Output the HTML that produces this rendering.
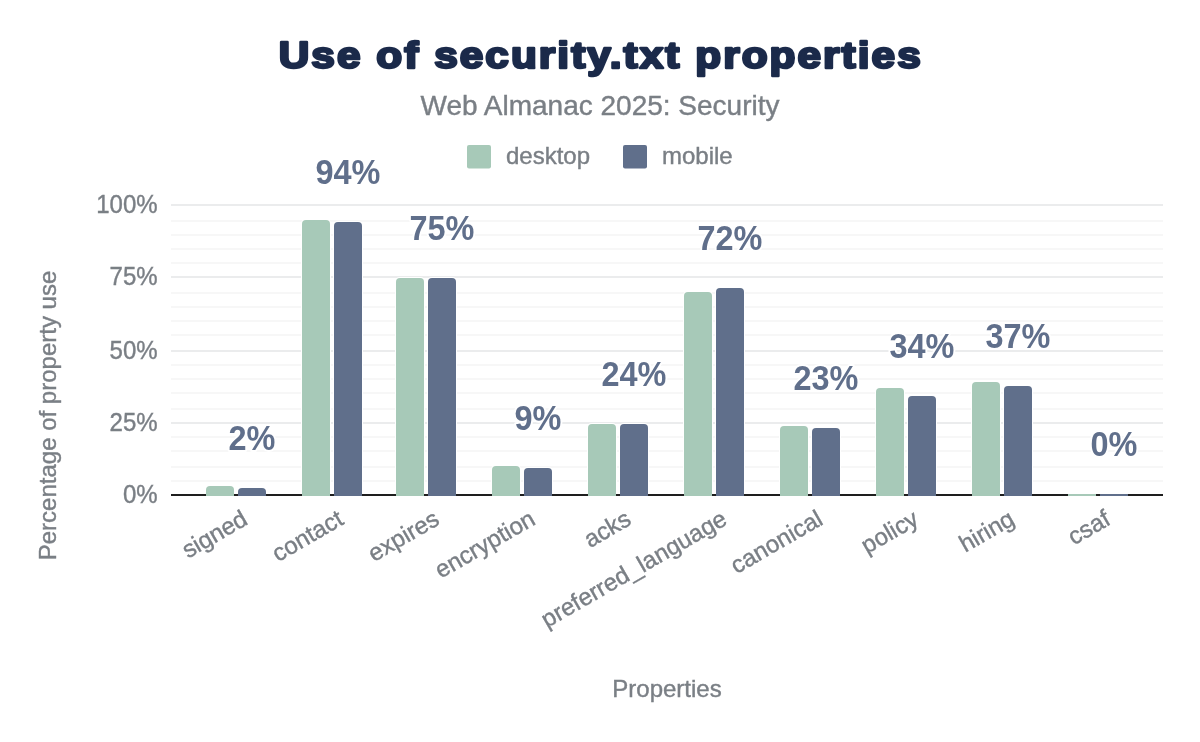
<!DOCTYPE html>
<html><head><meta charset="utf-8"><title>Use of security.txt properties</title>
<style>
html,body{margin:0;padding:0;background:#fff;}
body{width:1200px;height:742px;overflow:hidden;}
svg{display:block;will-change:transform;}
text{font-family:"Liberation Sans",Arial,sans-serif;}
.g{stroke:#7a7f85;stroke-width:0.4px;}
.title{font-weight:bold;font-size:37.5px;fill:#1b2a4a;stroke:#1b2a4a;stroke-width:2.5px;stroke-linejoin:round;letter-spacing:1.8px;}
.sub{font-size:28px;fill:#7a7f85;}
.leg{font-size:24px;fill:#7a7f85;}
.tick{font-size:25px;fill:#7a7f85;}
.xl{font-size:24px;fill:#7a7f85;}
.axt{font-size:24px;fill:#7a7f85;}
.dl{font-weight:bold;font-size:34.5px;fill:#606f8b;stroke:#fff;stroke-width:4px;paint-order:stroke;stroke-linejoin:round;}
</style></head>
<body>
<svg width="1200" height="742" viewBox="0 0 1200 742">
<rect width="1200" height="742" fill="#fff"/>
<text x="0" y="0" text-anchor="middle" class="title" transform="translate(600.7,68.2) scale(1.13,1)">Use of security.txt properties</text>
<text x="600" y="115" text-anchor="middle" class="sub g">Web Almanac 2025: Security</text>
<rect x="467" y="145" width="24" height="23.5" rx="2" fill="#a7c9b8"/>
<text x="506" y="163.5" class="leg g">desktop</text>
<rect x="623" y="145" width="24" height="23.5" rx="2" fill="#606f8b"/>
<text x="662" y="163.5" class="leg g">mobile</text>
<rect x="171" y="204" width="992" height="2" fill="#ebeced"/>
<rect x="171" y="276" width="992" height="2" fill="#ebeced"/>
<rect x="171" y="350" width="992" height="2" fill="#ebeced"/>
<rect x="171" y="422" width="992" height="2" fill="#ebeced"/>
<rect x="171" y="220" width="992" height="2" fill="#f7f7f7"/>
<rect x="171" y="234" width="992" height="2" fill="#f7f7f7"/>
<rect x="171" y="248" width="992" height="2" fill="#f7f7f7"/>
<rect x="171" y="262" width="992" height="2" fill="#f7f7f7"/>
<rect x="171" y="292" width="992" height="2" fill="#f7f7f7"/>
<rect x="171" y="306" width="992" height="2" fill="#f7f7f7"/>
<rect x="171" y="320" width="992" height="2" fill="#f7f7f7"/>
<rect x="171" y="334" width="992" height="2" fill="#f7f7f7"/>
<rect x="171" y="364" width="992" height="2" fill="#f7f7f7"/>
<rect x="171" y="378" width="992" height="2" fill="#f7f7f7"/>
<rect x="171" y="392" width="992" height="2" fill="#f7f7f7"/>
<rect x="171" y="408" width="992" height="2" fill="#f7f7f7"/>
<rect x="171" y="436" width="992" height="2" fill="#f7f7f7"/>
<rect x="171" y="450" width="992" height="2" fill="#f7f7f7"/>
<rect x="171" y="466" width="992" height="2" fill="#f7f7f7"/>
<rect x="171" y="480" width="992" height="2" fill="#f7f7f7"/>
<text x="0" y="0" transform="translate(157.6,212.80) scale(0.96,1)" text-anchor="end" class="tick g">100%</text>
<text x="0" y="0" transform="translate(157.6,284.80) scale(0.96,1)" text-anchor="end" class="tick g">75%</text>
<text x="0" y="0" transform="translate(157.6,358.80) scale(0.96,1)" text-anchor="end" class="tick g">50%</text>
<text x="0" y="0" transform="translate(157.6,430.80) scale(0.96,1)" text-anchor="end" class="tick g">25%</text>
<text x="0" y="0" transform="translate(157.6,502.80) scale(0.96,1)" text-anchor="end" class="tick g">0%</text>
<path d="M206,496 V490 Q206,486 210,486 H230 Q234,486 234,490 V496 Z" fill="#a7c9b8" stroke="#fff" stroke-width="2" paint-order="stroke"/>
<path d="M238,496 V492 Q238,488 242,488 H262 Q266,488 266,492 V496 Z" fill="#606f8b" stroke="#fff" stroke-width="2" paint-order="stroke"/>
<path d="M302,496 V224 Q302,220 306,220 H326 Q330,220 330,224 V496 Z" fill="#a7c9b8" stroke="#fff" stroke-width="2" paint-order="stroke"/>
<path d="M334,496 V226 Q334,222 338,222 H358 Q362,222 362,226 V496 Z" fill="#606f8b" stroke="#fff" stroke-width="2" paint-order="stroke"/>
<path d="M396,496 V282 Q396,278 400,278 H420 Q424,278 424,282 V496 Z" fill="#a7c9b8" stroke="#fff" stroke-width="2" paint-order="stroke"/>
<path d="M428,496 V282 Q428,278 432,278 H452 Q456,278 456,282 V496 Z" fill="#606f8b" stroke="#fff" stroke-width="2" paint-order="stroke"/>
<path d="M492,496 V470 Q492,466 496,466 H516 Q520,466 520,470 V496 Z" fill="#a7c9b8" stroke="#fff" stroke-width="2" paint-order="stroke"/>
<path d="M524,496 V472 Q524,468 528,468 H548 Q552,468 552,472 V496 Z" fill="#606f8b" stroke="#fff" stroke-width="2" paint-order="stroke"/>
<path d="M588,496 V428 Q588,424 592,424 H612 Q616,424 616,428 V496 Z" fill="#a7c9b8" stroke="#fff" stroke-width="2" paint-order="stroke"/>
<path d="M620,496 V428 Q620,424 624,424 H644 Q648,424 648,428 V496 Z" fill="#606f8b" stroke="#fff" stroke-width="2" paint-order="stroke"/>
<path d="M684,496 V296 Q684,292 688,292 H708 Q712,292 712,296 V496 Z" fill="#a7c9b8" stroke="#fff" stroke-width="2" paint-order="stroke"/>
<path d="M716,496 V292 Q716,288 720,288 H740 Q744,288 744,292 V496 Z" fill="#606f8b" stroke="#fff" stroke-width="2" paint-order="stroke"/>
<path d="M780,496 V430 Q780,426 784,426 H804 Q808,426 808,430 V496 Z" fill="#a7c9b8" stroke="#fff" stroke-width="2" paint-order="stroke"/>
<path d="M812,496 V432 Q812,428 816,428 H836 Q840,428 840,432 V496 Z" fill="#606f8b" stroke="#fff" stroke-width="2" paint-order="stroke"/>
<path d="M876,496 V392 Q876,388 880,388 H900 Q904,388 904,392 V496 Z" fill="#a7c9b8" stroke="#fff" stroke-width="2" paint-order="stroke"/>
<path d="M908,496 V400 Q908,396 912,396 H932 Q936,396 936,400 V496 Z" fill="#606f8b" stroke="#fff" stroke-width="2" paint-order="stroke"/>
<path d="M972,496 V386 Q972,382 976,382 H996 Q1000,382 1000,386 V496 Z" fill="#a7c9b8" stroke="#fff" stroke-width="2" paint-order="stroke"/>
<path d="M1004,496 V390 Q1004,386 1008,386 H1028 Q1032,386 1032,390 V496 Z" fill="#606f8b" stroke="#fff" stroke-width="2" paint-order="stroke"/>
<rect x="171" y="494" width="992" height="2" fill="#1e1e1e"/>
<rect x="206" y="494" width="28" height="2" fill="#a7c9b8"/>
<rect x="238" y="494" width="28" height="2" fill="#606f8b"/>
<rect x="302" y="494" width="28" height="2" fill="#a7c9b8"/>
<rect x="334" y="494" width="28" height="2" fill="#606f8b"/>
<rect x="396" y="494" width="28" height="2" fill="#a7c9b8"/>
<rect x="428" y="494" width="28" height="2" fill="#606f8b"/>
<rect x="492" y="494" width="28" height="2" fill="#a7c9b8"/>
<rect x="524" y="494" width="28" height="2" fill="#606f8b"/>
<rect x="588" y="494" width="28" height="2" fill="#a7c9b8"/>
<rect x="620" y="494" width="28" height="2" fill="#606f8b"/>
<rect x="684" y="494" width="28" height="2" fill="#a7c9b8"/>
<rect x="716" y="494" width="28" height="2" fill="#606f8b"/>
<rect x="780" y="494" width="28" height="2" fill="#a7c9b8"/>
<rect x="812" y="494" width="28" height="2" fill="#606f8b"/>
<rect x="876" y="494" width="28" height="2" fill="#a7c9b8"/>
<rect x="908" y="494" width="28" height="2" fill="#606f8b"/>
<rect x="972" y="494" width="28" height="2" fill="#a7c9b8"/>
<rect x="1004" y="494" width="28" height="2" fill="#606f8b"/>
<rect x="1068" y="494" width="28" height="2" fill="#a7c9b8"/>
<rect x="1100" y="494" width="28" height="2" fill="#606f8b"/>
<text x="0" y="0" transform="translate(252,449.5) scale(0.94,1)" text-anchor="middle" class="dl">2%</text>
<text x="0" y="0" transform="translate(348,183.5) scale(0.94,1)" text-anchor="middle" class="dl">94%</text>
<text x="0" y="0" transform="translate(442,239.5) scale(0.94,1)" text-anchor="middle" class="dl">75%</text>
<text x="0" y="0" transform="translate(538,429.5) scale(0.94,1)" text-anchor="middle" class="dl">9%</text>
<text x="0" y="0" transform="translate(634,385.5) scale(0.94,1)" text-anchor="middle" class="dl">24%</text>
<text x="0" y="0" transform="translate(730,249.5) scale(0.94,1)" text-anchor="middle" class="dl">72%</text>
<text x="0" y="0" transform="translate(826,389.5) scale(0.94,1)" text-anchor="middle" class="dl">23%</text>
<text x="0" y="0" transform="translate(922,357.5) scale(0.94,1)" text-anchor="middle" class="dl">34%</text>
<text x="0" y="0" transform="translate(1018,347.5) scale(0.94,1)" text-anchor="middle" class="dl">37%</text>
<text x="0" y="0" transform="translate(1114,455.5) scale(0.94,1)" text-anchor="middle" class="dl">0%</text>
<text transform="translate(249.15,523.5) rotate(-30)" text-anchor="end" class="xl g">signed</text>
<text transform="translate(345.02,523.5) rotate(-30)" text-anchor="end" class="xl g">contact</text>
<text transform="translate(440.89,523.5) rotate(-30)" text-anchor="end" class="xl g">expires</text>
<text transform="translate(536.76,523.5) rotate(-30)" text-anchor="end" class="xl g">encryption</text>
<text transform="translate(632.63,523.5) rotate(-30)" text-anchor="end" class="xl g">acks</text>
<text transform="translate(728.50,523.5) rotate(-30)" text-anchor="end" class="xl g">preferred_language</text>
<text transform="translate(824.37,523.5) rotate(-30)" text-anchor="end" class="xl g">canonical</text>
<text transform="translate(920.24,523.5) rotate(-30)" text-anchor="end" class="xl g">policy</text>
<text transform="translate(1016.11,523.5) rotate(-30)" text-anchor="end" class="xl g">hiring</text>
<text transform="translate(1111.98,523.5) rotate(-30)" text-anchor="end" class="xl g">csaf</text>
<text x="667" y="697" text-anchor="middle" class="axt g">Properties</text>
<text transform="translate(55.7,415.5) rotate(-90)" text-anchor="middle" class="axt g">Percentage of property use</text>
</svg>
</body></html>
